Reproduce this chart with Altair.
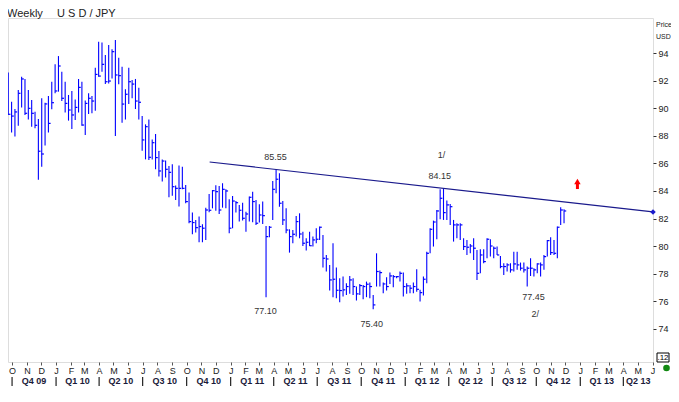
import altair as alt
import pandas as pd

# ---------------- data ----------------
HIGH = [92.58, 90.47, 89.94, 91.32, 92.28, 92.12, 91.32, 90.59, 89.75, 89.22,
        90.72, 90.40, 90.88, 91.92, 93.18, 93.78, 92.65, 91.92, 90.96, 91.25,
        90.64, 92.12, 91.92, 90.55, 91.08, 90.88, 92.94, 94.82, 94.77, 93.86,
        94.58, 94.27, 94.94, 93.66, 93.01, 91.37, 92.94, 92.04, 92.12, 91.49,
        89.43, 88.83, 89.19, 87.74, 88.13, 86.90, 86.29, 86.20, 85.81, 85.93,
        84.39, 85.84, 85.76, 84.44, 83.88, 82.43, 81.90, 82.14, 81.58, 82.79,
        83.78, 84.07, 84.41, 84.36, 84.56, 84.12, 83.40, 83.64, 83.27, 82.99,
        83.15, 82.50, 83.59, 83.95, 83.35, 83.03, 83.23, 81.46, 81.46, 84.72,
        85.57, 85.28, 83.27, 82.74, 81.22, 81.17, 82.19, 82.38, 81.05, 80.57,
        81.05, 80.69, 81.29, 81.42, 80.81, 79.36, 78.64, 80.21, 78.45, 77.67,
        77.79, 77.31, 77.84, 77.67, 77.07, 77.26, 77.19, 77.43, 77.36, 76.46,
        79.48, 78.23, 77.36, 77.74, 78.08, 77.91, 77.84, 78.16, 78.08, 77.31,
        77.19, 77.36, 78.33, 76.83, 77.79, 79.60, 81.29, 81.85, 82.62, 84.12,
        84.19, 83.30, 83.06, 81.90, 81.66, 81.66, 80.57, 80.45, 80.16, 80.57,
        79.72, 79.77, 79.77, 80.57, 80.50, 79.97, 79.97, 79.29, 78.76, 78.76,
        78.76, 79.60, 79.60, 78.81, 78.81, 78.52, 79.12, 78.40, 78.76, 78.81,
        79.36, 80.45, 80.64, 80.45, 81.42, 82.82, 82.67]
LOW = [89.51, 88.23, 87.94, 88.73, 90.06, 89.51, 89.19, 88.66, 88.54, 84.82,
       85.76, 87.29, 88.23, 89.92, 91.08, 91.20, 90.52, 89.68, 89.10, 88.49,
       89.14, 89.68, 88.73, 88.06, 89.58, 89.63, 89.82, 92.28, 92.65, 91.75,
       91.80, 92.16, 87.99, 91.73, 88.95, 89.19, 90.30, 90.72, 89.94, 89.19,
       86.92, 86.29, 86.25, 86.29, 85.57, 85.04, 84.68, 84.97, 83.54, 83.66,
       83.35, 82.87, 84.12, 83.11, 81.66, 80.86, 80.98, 80.28, 80.28, 80.45,
       82.45, 82.74, 82.57, 82.33, 82.79, 82.74, 80.93, 81.30, 82.43, 81.78,
       81.85, 81.05, 81.78, 81.73, 81.54, 81.71, 81.61, 76.30, 80.64, 81.90,
       83.83, 82.86, 81.54, 80.93, 79.53, 80.21, 80.69, 80.57, 80.01, 79.68,
       80.01, 79.97, 80.21, 80.45, 78.45, 78.16, 76.78, 76.30, 76.22, 75.93,
       76.35, 76.46, 76.54, 76.46, 76.05, 76.46, 76.15, 76.30, 76.22, 75.42,
       77.07, 77.07, 76.58, 76.78, 77.26, 77.02, 77.67, 77.43, 76.35, 76.54,
       76.58, 76.58, 76.70, 75.98, 76.42, 77.31, 79.48, 79.97, 80.50, 81.95,
       81.90, 81.90, 81.54, 80.33, 80.57, 80.45, 79.72, 79.36, 79.48, 78.99,
       77.55, 78.03, 78.76, 79.12, 79.24, 79.12, 79.36, 78.40, 77.91, 78.16,
       78.08, 78.16, 78.28, 78.23, 78.08, 77.07, 77.84, 77.79, 78.04, 77.79,
       78.28, 79.24, 79.36, 79.36, 79.12, 81.54, 81.66]
CLOSE = [89.56, 89.43, 89.73, 91.08, 92.12, 89.63, 89.99, 89.63, 88.76, 86.88,
         86.68, 90.31, 88.90, 90.40, 91.25, 93.06, 90.72, 90.35, 89.87, 89.51,
         90.06, 91.51, 88.78, 90.35, 90.72, 90.52, 92.45, 92.33, 93.18, 91.92,
         91.97, 94.10, 92.41, 92.36, 90.30, 91.01, 91.92, 91.75, 90.52, 90.43,
         87.70, 88.66, 86.44, 87.50, 86.42, 85.45, 86.17, 85.57, 85.35, 84.31,
         84.19, 84.19, 84.19, 83.23, 81.78, 81.71, 81.34, 81.42, 81.30, 82.62,
         82.60, 84.02, 83.95, 82.62, 84.12, 84.00, 81.30, 83.27, 83.15, 82.60,
         82.02, 82.33, 83.54, 83.23, 81.66, 82.26, 82.21, 80.69, 81.37, 84.12,
         84.85, 83.11, 81.90, 81.17, 80.69, 80.86, 81.78, 80.88, 80.21, 80.28,
         80.03, 80.45, 80.50, 81.37, 79.12, 79.07, 77.55, 77.60, 76.80, 76.78,
         76.83, 77.07, 77.55, 77.07, 76.54, 77.14, 77.07, 77.24, 77.07, 75.74,
         78.16, 78.08, 77.26, 77.07, 77.84, 77.79, 77.79, 78.03, 77.07, 77.12,
         76.95, 77.07, 76.87, 76.63, 77.60, 79.48, 81.22, 81.75, 82.55, 83.47,
         82.43, 82.99, 82.86, 81.54, 81.54, 81.54, 79.97, 79.92, 80.01, 79.85,
         78.03, 79.36, 78.88, 80.50, 80.01, 79.85, 79.36, 78.52, 78.52, 78.64,
         78.28, 78.71, 78.64, 78.40, 78.28, 78.40, 78.40, 78.28, 78.71, 78.64,
         79.24, 80.40, 79.53, 79.48, 81.37, 82.62, 82.55]
FIRST_WEEK = "2009-09-23"

TREND_DATES = ["2010-11-18", "2013-06-02"]
TREND_PRICES = [86.10, 82.48]

ANN_TEXT = ["85.55", "77.10", "75.40", "1/", "84.15", "77.45", "2/"]
ANN_DATES = ["2011-04-05", "2011-03-15", "2011-10-23", "2012-03-17",
             "2012-03-13", "2012-09-25", "2012-09-29"]
ANN_PRICES = [86.46, 75.30, 74.36, 86.61, 85.09, 76.32, 75.09]

ARROW_DATE = "2012-12-26"
ARROW_HEAD = 84.69
ARROW_TAIL = [84.52, 84.14]

PRICE_TICKS = [74, 76, 78, 80, 82, 84, 86, 88, 90, 92, 94]

QUARTER_LABELS = ["Q4 09", "Q1 10", "Q2 10", "Q3 10", "Q4 10", "Q1 11", "Q2 11",
                  "Q3 11", "Q4 11", "Q1 12", "Q2 12", "Q3 12", "Q4 12", "Q1 13",
                  "Q2 13"]
QUARTER_STARTS = ["2009-10-01", "2010-01-01", "2010-04-01", "2010-07-01",
                  "2010-10-01", "2011-01-01", "2011-04-01", "2011-07-01",
                  "2011-10-01", "2012-01-01", "2012-04-01", "2012-07-01",
                  "2012-10-01", "2013-01-01", "2013-04-01"]

DOMAIN_END = "2013-06-02"

# ---------------- tables ----------------
bars = pd.DataFrame({
    "date": pd.date_range(FIRST_WEEK, periods=len(HIGH), freq="7D"),
    "high": HIGH, "low": LOW, "close": CLOSE,
})
trend = pd.DataFrame({"date": pd.to_datetime(TREND_DATES), "price": TREND_PRICES})
ann = pd.DataFrame({"date": pd.to_datetime(ANN_DATES), "price": ANN_PRICES, "label": ANN_TEXT})
arrow_head = pd.DataFrame({"date": pd.to_datetime([ARROW_DATE]), "price": [ARROW_HEAD]})
arrow_tail = pd.DataFrame({"date": pd.to_datetime([ARROW_DATE]),
                           "price": [ARROW_TAIL[0]], "price2": [ARROW_TAIL[1]]})

qs = pd.to_datetime(QUARTER_STARTS)
dend = pd.Timestamp(DOMAIN_END)
q_mid = []
for s in qs:
    e = min(s + pd.offsets.QuarterBegin(startingMonth=1), dend)
    q_mid.append(s + (e - s) / 2)
quarters = pd.DataFrame({"date": q_mid, "label": QUARTER_LABELS})
qsep = pd.DataFrame({"date": qs})

W, H = 645, 344
FONT = "Liberation Sans"

xscale = alt.Scale(domain=[alt.DateTime(year=2009, month=9, date=22, hours=12),
                           alt.DateTime(year=2013, month=6, date=2)])
yscale = alt.Scale(domain=[71.6, 96.54], zero=False, nice=False)

AX_X = alt.Axis(title=None, grid=False, domain=False,
                tickCount={"interval": "month", "step": 1}, format="%b",
                labelExpr="slice(datum.label, 0, 1)", labelFontSize=9,
                labelPadding=1, tickSize=3, tickColor="#555", labelColor="#1a1a1a",
                labelOverlap=False, labelFlush=False, labelFont=FONT)
AX_Y = alt.Axis(title=None, orient="right", values=PRICE_TICKS, grid=False,
                domain=False, tickSize=3, labelPadding=2, labelFontSize=9,
                tickColor="#333", labelColor="#1a1a1a", labelFont=FONT)


def X(field="date"):
    return alt.X(f"{field}:T", scale=xscale, axis=AX_X)


def Y(field):
    return alt.Y(f"{field}:Q", scale=yscale, axis=AX_Y)


BLUE = "#0000ff"
NAVY = "#1a1a8c"

hl = alt.Chart(bars).mark_rule(color=BLUE, strokeWidth=1.1).encode(
    x=X(), y=Y("high"), y2="low")
cl = alt.Chart(bars).mark_rule(color=BLUE, strokeWidth=1.2, x2Offset=2.2).encode(
    x=X(), x2="date", y=Y("close"))

tl = alt.Chart(trend).mark_line(color=NAVY, strokeWidth=1.2, clip=False).encode(
    x=X(), y=Y("price"))
tp = alt.Chart(trend.iloc[[1]]).mark_point(shape="diamond", filled=True, size=30,
                                           color="#1a1acc", opacity=1).encode(
    x=X(), y=Y("price"))

labels = alt.Chart(ann).mark_text(fontSize=9, font=FONT, color="#333333").encode(
    x=X(), y=Y("price"), text="label")

ah = alt.Chart(arrow_head).mark_point(shape="triangle-up", filled=True, size=42,
                                      color="#ff0000", opacity=1).encode(
    x=X(), y=Y("price"))
at = alt.Chart(arrow_tail).mark_rule(color="#ff0000", strokeWidth=3).encode(
    x=X(), y=Y("price"), y2="price2")

qtext = alt.Chart(quarters).mark_text(fontSize=9, font=FONT, fontWeight="bold",
                                      color="#1a1a3a", baseline="middle").encode(
    x=X(), y=alt.value(H + 19), text="label")
qrule = alt.Chart(qsep).mark_rule(color="#222222", strokeWidth=1.2).encode(
    x=X(), y=alt.value(H + 15), y2=alt.value(H + 24))

one = pd.DataFrame({"a": [0]})
title1 = alt.Chart(one).mark_text(text="Weekly", fontSize=11, font=FONT, align="left",
                                  baseline="middle", color="#222").encode(
    x=alt.value(-1), y=alt.value(-4))
title2 = alt.Chart(one).mark_text(text="U S D / JPY", fontSize=11, font=FONT, align="left",
                                  baseline="middle", color="#222").encode(
    x=alt.value(49), y=alt.value(-4))
ptxt = alt.Chart(one).mark_text(text="Price", fontSize=7, font=FONT, align="left",
                                baseline="middle", color="#222").encode(
    x=alt.value(W + 3), y=alt.value(7))
utxt = alt.Chart(one).mark_text(text="USD", fontSize=7, font=FONT, align="left",
                                baseline="middle", color="#222").encode(
    x=alt.value(W + 3), y=alt.value(19))
box = alt.Chart(one).mark_rect(fill="white", stroke="#000", strokeWidth=1).encode(
    x=alt.value(W + 4), x2=alt.value(W + 16), y=alt.value(H - 9), y2=alt.value(H))
boxt = alt.Chart(one).mark_text(text=".12", fontSize=8, font=FONT, align="center",
                                baseline="middle", color="#000").encode(
    x=alt.value(W + 10), y=alt.value(H - 4.5))
dot = alt.Chart(one).mark_circle(color="#118811", size=44, opacity=1).encode(
    x=alt.value(W + 13.5), y=alt.value(H + 6))

chart = alt.layer(
    hl, cl, tl, tp, labels, ah, at, qtext, qrule,
    title1, title2, ptxt, utxt, box, boxt, dot,
).properties(
    width=W, height=H,
    autosize=alt.AutoSizeParams(type="none"),
    padding={"left": 0, "top": 10, "right": 18, "bottom": 32},
    background="white",
).configure_view(stroke="#9a9a9a", strokeWidth=1).configure(font=FONT)

chart.save("out.html", embed_options={"renderer": "svg", "actions": False})
